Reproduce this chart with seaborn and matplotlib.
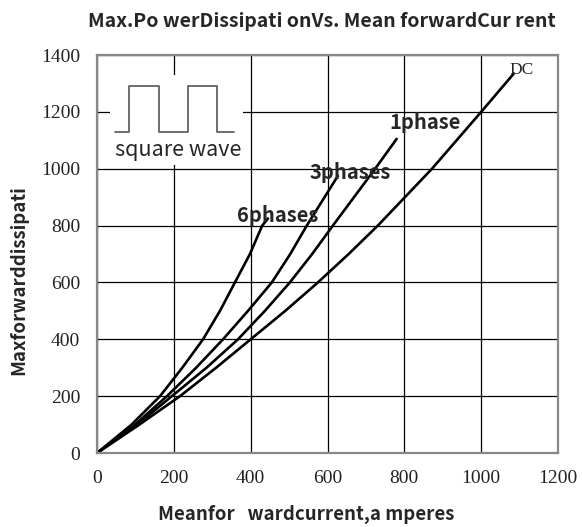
import numpy as np
import pandas as pd
import matplotlib
matplotlib.use("Agg")
import matplotlib.pyplot as plt
import seaborn as sns

# values (x = mean forward current, y = max dissipation)
x_6ph = [0, 90, 164, 222, 276, 320, 359, 398, 430, 445]
y_6ph = [0, 100, 200, 300, 400, 500, 600, 700, 800, 825]
x_3ph = [0, 95, 182, 258, 328, 393, 455, 503, 546, 627]
y_3ph = [0, 95, 200, 300, 400, 500, 600, 700, 800, 975]
x_1ph = [0, 100, 195, 285, 367, 437, 502, 560, 614, 724, 780]
y_1ph = [0, 95, 200, 300, 400, 500, 600, 700, 800, 1000, 1105]
x_dc = [0, 105, 216, 310, 400, 490, 575, 655, 731, 872, 1000, 1085]
y_dc = [0, 95, 200, 300, 400, 500, 600, 700, 800, 1000, 1200, 1335]

series_names = ["6phases", "3phases", "1phase", "DC"]
label_pos = {"6phases": (471, 837), "3phases": (658, 988),
             "1phase": (854, 1161)}

x_ticks = [0, 200, 400, 600, 800, 1000, 1200]
y_ticks = [0, 200, 400, 600, 800, 1000, 1200, 1400]

frames = []
for name, xs, ys in zip(series_names, [x_6ph, x_3ph, x_1ph, x_dc],
                        [y_6ph, y_3ph, y_1ph, y_dc]):
    frames.append(pd.DataFrame({"current": xs, "power": ys, "series": name}))
df = pd.concat(frames, ignore_index=True)

sns.set_style("white")
sans = ["Noto Sans CJK SC", "DejaVu Sans"]
serif = ["Liberation Serif", "DejaVu Serif"]

fig = plt.figure(figsize=(5.82, 5.27), dpi=100)
ax = fig.add_axes([0.1667, 0.1404, 0.7921, 0.7552])

sns.lineplot(data=df, x="current", y="power", hue="series",
             palette=["black"] * 4, legend=False, linewidth=1.9, ax=ax)

ax.set_xlim(0, 1200)
ax.set_ylim(0, 1400)
ax.set_xticks(x_ticks)
ax.set_yticks(y_ticks)
ax.grid(True, color="black", linewidth=0.9)
ax.set_axisbelow(True)
ax.tick_params(length=0, pad=12)
for lab in ax.get_xticklabels() + ax.get_yticklabels():
    lab.set_fontfamily(serif)
    lab.set_fontsize(14)
    lab.set_color("#222222")
for sp in ax.spines.values():
    sp.set_color("#888888")
    sp.set_linewidth(1.6)

ax.set_xlabel("Meanfor   wardcurrent,a mperes", family=sans, fontsize=13.4,
              fontweight="bold", va="center")
ax.xaxis.set_label_coords(0.453, -0.155)
ax.set_ylabel("Maxforwarddissipati", family=sans, fontsize=13.4,
              fontweight="bold", va="center")
ax.yaxis.set_label_coords(-0.170, 0.435)
fig.text(0.553, 0.960, "Max.Po werDissipati onVs. Mean forwardCur rent",
         family=sans, fontsize=14, fontweight="bold", ha="center",
         va="center")

# curve labels
for name, (tx, ty) in label_pos.items():
    ax.text(tx, ty, name, family=sans, fontsize=14.5, fontweight="semibold",
            ha="center", va="center")
ax.text(1104, 1347, "DC", family=serif, fontsize=12.5, ha="center",
        va="center")

# square wave inset
ax.add_patch(plt.Rectangle((34, 1013), 346, 317, facecolor="white",
                           edgecolor="none", zorder=1.5))
wave_x = [48, 84, 84, 162, 162, 237, 237, 313, 313, 357]
wave_y = [1130, 1130, 1290, 1290, 1130, 1130, 1290, 1290, 1130, 1130]
ax.plot(wave_x, wave_y, color="#555555", linewidth=1.2, zorder=2)
ax.text(211, 1066, "square wave", family=sans, fontsize=15.5,
        ha="center", va="center", zorder=3)

fig.savefig("out.png", dpi=100)
